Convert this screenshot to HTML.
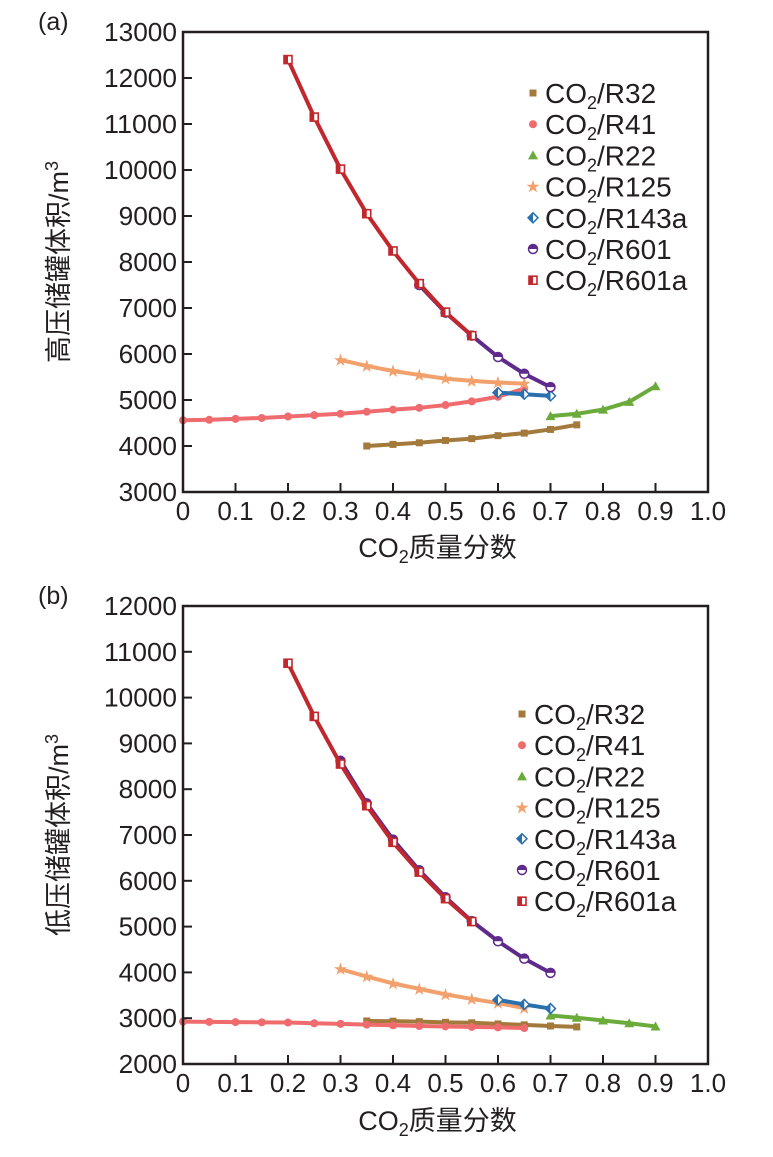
<!DOCTYPE html>
<html><head><meta charset="utf-8"><style>
body{margin:0;background:#fff;}
svg text{font-family:"Liberation Sans","Noto Sans CJK SC",sans-serif;fill:#231f20;}
</style></head><body>
<svg id="svg" width="773" height="1152" xmlns="http://www.w3.org/2000/svg"></svg>
<script>
const xs = [0,0.05,0.1,0.15,0.2,0.25,0.3,0.35,0.4,0.45,0.5,0.55,0.6,0.65,0.7,0.75,0.8,0.85,0.9];
const xTicks = ["0","0.1","0.2","0.3","0.4","0.5","0.6","0.7","0.8","0.9","1.0"];
const seriesNames = ["R32","R41","R22","R125","R143a","R601","R601a"];
const colors = ["#a37a3c","#ef6b6e","#6aab3c","#f2a06c","#2a6fae","#5e2a8c","#c0282d"];
const aR32 = [0.35,[4000,4035,4070,4120,4160,4225,4280,4360,4460]];
const aR41 = [0,[4560,4570,4590,4610,4640,4670,4700,4745,4790,4830,4890,4970,5070,5250]];
const aR22 = [0.7,[4650,4700,4790,4960,5300]];
const aR125 = [0.3,[5870,5740,5630,5545,5465,5415,5380,5355]];
const aR143a = [0.6,[5160,5125,5090]];
const aR601 = [0.45,[7500,6900,6400,5935,5570,5280]];
const aR601a = [0.2,[12400,11150,10020,9050,8240,7530,6910,6400]];
const aYTicks = [3000,4000,5000,6000,7000,8000,9000,10000,11000,12000,13000];
const bR32 = [0.35,[2940,2935,2925,2910,2900,2875,2855,2830,2810]];
const bR41 = [0,[2925,2920,2915,2910,2905,2890,2875,2860,2845,2830,2820,2810,2800,2785]];
const bR22 = [0.7,[3060,3010,2950,2890,2820]];
const bR125 = [0.3,[4070,3910,3760,3640,3520,3420,3330,3220]];
const bR143a = [0.6,[3400,3300,3210]];
const bR601 = [0.3,[8620,7690,6900,6230,5640,5120,4680,4300,3990]];
const bR601a = [0.2,[10750,9590,8550,7640,6840,6190,5610,5110]];
const bYTicks = [2000,3000,4000,5000,6000,7000,8000,9000,10000,11000,12000];

const NS="http://www.w3.org/2000/svg";
const svg=document.getElementById('svg');
function mk(tag,attrs,parent){const e=document.createElementNS(NS,tag);for(const k in attrs)e.setAttribute(k,attrs[k]);(parent||svg).appendChild(e);return e;}

function marker(g,i,x,y){
  const c=colors[i];let m;
  if(i===0){m=mk('rect',{x:x-3.5,y:y-3.5,width:7,height:7,fill:c},g);}
  else if(i===1){m=mk('circle',{cx:x,cy:y,r:4,fill:c},g);}
  else if(i===2){m=mk('polygon',{points:`${x},${y-5} ${x+5},${y+4} ${x-5},${y+4}`,fill:c},g);}
  else if(i===3){m=mk('text',{x:x,y:y+5,'text-anchor':'middle','font-size':14,style:'fill:'+c},g);m.textContent='★';}
  else if(i===4){m=mk('polygon',{points:`${x},${y-5} ${x+5},${y} ${x},${y+5} ${x-5},${y}`,fill:'#fff',stroke:c,'stroke-width':1.5},g);
    const h=mk('polygon',{points:`${x},${y-5} ${x-5},${y} ${x},${y+5}`,fill:c},g);
    
    }
  else if(i===5){m=mk('circle',{cx:x,cy:y,r:4.5,fill:'#fff',stroke:c,'stroke-width':1.5},g);
    const h=mk('path',{d:`M${x-4.5},${y} A4.5,4.5 0 0 1 ${x+4.5},${y} Z`,fill:c},g);
    
    }
  else {m=mk('rect',{x:x-4,y:y-4,width:8,height:8,fill:'#fff',stroke:c,'stroke-width':1.6},g);
    const h=mk('rect',{x:x-4,y:y-4,width:4,height:8,fill:c},g);
    
    }
  
  
}

function chart(cfg){
  const {x0,x1,yTop,yBot,vMin,vMax,ticks,series,label,ytitle,xtitleY,legX,legY,id}=cfg;
  const X=v=>x0+(x1-x0)*v;
  const Y=v=>yBot-(yBot-yTop)*(v-vMin)/(vMax-vMin);
  const g=mk('g',{});
  
  
  const lab=mk('text',{x:38,y:yTop-2,'font-size':25},g);lab.textContent=label;
  
  
  series.forEach((s,i)=>{
    const sg=mk('g',{},g);
    
    
    const start=Math.round(s[0]/0.05);
    const pts=s[1].map((v,k)=>[X(xs[start+k]),Y(v)]);
    const pl=mk('polyline',{points:pts.map(p=>p.join(',')).join(' '),fill:'none',stroke:colors[i],'stroke-width':4,'stroke-linejoin':'round'},sg);
    
    
    pts.forEach(p=>marker(sg,i,p[0],p[1]));
  });
  const fr=mk('rect',{x:x0,y:yTop,width:x1-x0,height:yBot-yTop,fill:'none',stroke:'#231f20','stroke-width':2.5},g);
  
  
  ticks.forEach(t=>{
    const y=Y(t);
    if(t!==vMin&&t!==vMax){const l=mk('line',{x1:x0,x2:x0+9,y1:y,y2:y,stroke:'#231f20','stroke-width':2},g);
      
      }
    const tx=mk('text',{x:x0-6,y:y+9,'text-anchor':'end','font-size':26,textLength:String(t).length*14.6,lengthAdjust:'spacingAndGlyphs'},g);tx.textContent=t;
    
    
  });
  xTicks.forEach((t,k)=>{
    const x=X(k/10);
    if(k>0&&k<10){const l=mk('line',{x1:x,x2:x,y1:yBot,y2:yBot-9,stroke:'#231f20','stroke-width':2},g);
      
      }
    const tx=mk('text',{x:x,y:yBot+28,'text-anchor':'middle','font-size':26},g);tx.textContent=t;
    
    
  });
  const xt=mk('text',{x:(x0+x1)/2-8,y:xtitleY,'text-anchor':'middle','font-size':27},g);
  xt.innerHTML='CO<tspan font-size="18" dy="6">2</tspan><tspan dy="-6">质量分数</tspan>';
  
  
  const cy=(yTop+yBot)/2;
  const yt=mk('text',{x:0,y:0,'text-anchor':'middle','font-size':27,transform:`translate(68,${cy}) rotate(-90)`},g);
  yt.innerHTML=ytitle+'/m<tspan font-size="18" dy="-10">3</tspan>';
  
  
  const lg=mk('g',{},g);
  
  
  seriesNames.forEach((n,i)=>{
    const y=legY+i*31.2;
    marker(lg,i,legX,y);
    const t=mk('text',{x:legX+12,y:y+10,'font-size':28},lg);
    t.innerHTML='CO<tspan font-size="18" dy="6">2</tspan><tspan dy="-6">/'+n+'</tspan>';
    
    
  });
}
chart({id:'a',x0:183,x1:708,yTop:32,yBot:492,vMin:3000,vMax:13000,ticks:aYTicks,
  series:[aR32,aR41,aR22,aR125,aR143a,aR601,aR601a],label:'(a)',ytitle:'高压储罐体积',xtitleY:557,legX:533,legY:93});
chart({id:'b',x0:183,x1:708,yTop:606,yBot:1064,vMin:2000,vMax:12000,ticks:bYTicks,
  series:[bR32,bR41,bR22,bR125,bR143a,bR601,bR601a],label:'(b)',ytitle:'低压储罐体积',xtitleY:1130,legX:522,legY:714});
</script>
</body></html>
